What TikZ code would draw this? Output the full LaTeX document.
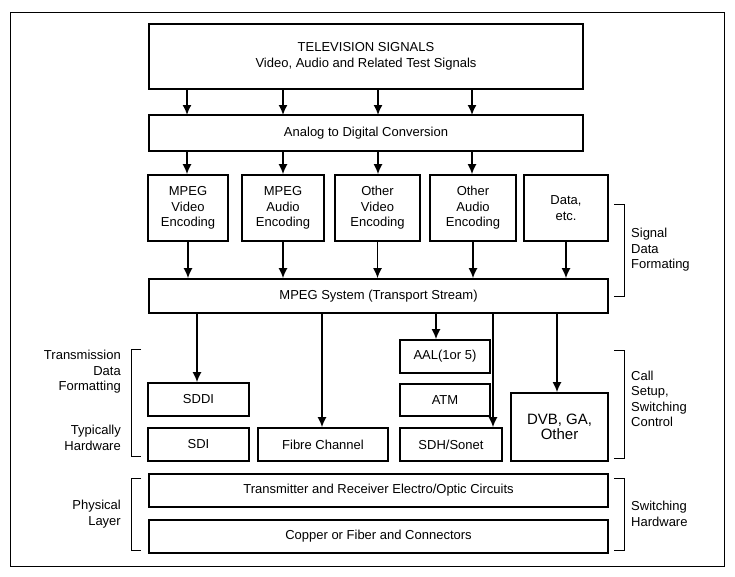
\documentclass[tikz,border=0pt]{standalone}
\usepackage{fontspec}
\setmainfont{Liberation Sans}
\usetikzlibrary{calc,arrows.meta}
\tikzset{
  box/.style={draw,line width=1.6pt,align=center,inner sep=0pt,font=\fontsize{13}{15.5}\selectfont},
  lbl/.style={align=center,font=\fontsize{13}{15.5}\selectfont,inner sep=0pt},
  arr/.style={line width=1.6pt,-{Latex[length=10pt,width=9pt]}},
  brk/.style={line width=1pt}
}
\newcommand{\bx}[5]{\node[box,minimum width=#3-#1,minimum height=#4-#2] (#5) at ({(#1+#3)/2},{(#2+#4)/2})}
\begin{document}
\begin{tikzpicture}[x=1pt,y=-1pt]
  \useasboundingbox (0,0) rectangle (735,576);
  \draw[line width=0.8pt] (10,12) rectangle (724,566);
  % top part
  \bx{149}{24}{583}{89}{tv} {TELEVISION SIGNALS\\Video, Audio and Related Test Signals};
  \bx{149}{115}{583}{151}{adc} {Analog to Digital Conversion};
  \bx{148}{175}{228}{241}{mv} {MPEG\\Video\\Encoding};
  \bx{242}{175}{324}{241}{ma} {MPEG\\Audio\\Encoding};
  \bx{335}{175}{420}{241}{ov} {Other\\Video\\Encoding};
  \bx{430}{175}{516}{241}{oa} {Other\\Audio\\Encoding};
  \bx{524}{175}{608}{241}{data} {Data,\\etc.};
  \bx{149}{279}{608}{313}{sys} {MPEG System (Transport Stream)};
  % transport
  \bx{148}{383}{249}{416}{sddi} {SDDI};
  \bx{148}{428}{249}{461}{sdi} {SDI};
  \bx{258}{428}{388}{461}{fc} {Fibre Channel};
  \bx{400}{340}{490}{373}{aal} {AAL(1or 5)};
  \bx{400}{384}{490}{416}{atm} {ATM};
  \bx{400}{428}{502}{461}{sdh} {SDH/Sonet};
  \bx{511}{393}{608}{461}{dvb} {\fontsize{15}{16}\selectfont DVB, GA,\\\fontsize{15}{16}\selectfont Other};
  \bx{149}{474}{608}{507}{tx} {Transmitter and Receiver Electro/Optic Circuits};
  \bx{149}{520}{608}{553}{cu} {Copper or Fiber and Connectors};
  % arrows
  \foreach \x/\t in {187/mv,283/ma,378/ov,472/oa}{
    \draw[arr] (\x,89) -- (\x,115);
    \draw[arr] (\x,151) -- (\t.north -| \x,0);
  }
  \foreach \t in {mv,ma,ov,oa,data}
    \draw[arr] (\t.south) -- (\t.south |- sys.north);
  \draw[arr] (197,313) -- (sddi.north -| 197,0);
  \draw[arr] (322,313) -- (fc.north -| 322,0);
  \draw[arr] (436,313) -- (aal.north -| 436,0);
  \draw[arr] (493,313) -- (sdh.north -| 493,0);
  \draw[arr] (557,313) -- (dvb.north -| 557,0);
  % brackets and side labels
  \draw[brk] (614,204) -- (624,204) -- (624,296) -- (614,296);
  \node[lbl,align=left,anchor=west] (sdf) at (631,250) {Signal\\Data\\Formating};
  \draw[brk] (614,350) -- (624,350) -- (624,458) -- (614,458);
  \node[lbl,align=left,anchor=west] (csc) at (631,399) {Call\\Setup,\\Switching\\Control};
  \draw[brk] (614,478) -- (624,478) -- (624,550) -- (614,550);
  \node[lbl,align=left,anchor=west] (swh) at (631,514) {Switching\\Hardware};
  \draw[brk] (141,349) -- (131,349) -- (131,456) -- (141,456);
  \node[lbl,align=right,anchor=east] (tdf) at (121,372) {Transmission\\Data\\Formatting};
  \node[lbl,align=right,anchor=east] (thw) at (121,438) {Typically\\Hardware};
  \draw[brk] (141,478) -- (131,478) -- (131,550) -- (141,550);
  \node[lbl,align=right,anchor=east] (phl) at (121,514) {Physical\\Layer};
\end{tikzpicture}
\end{document}
